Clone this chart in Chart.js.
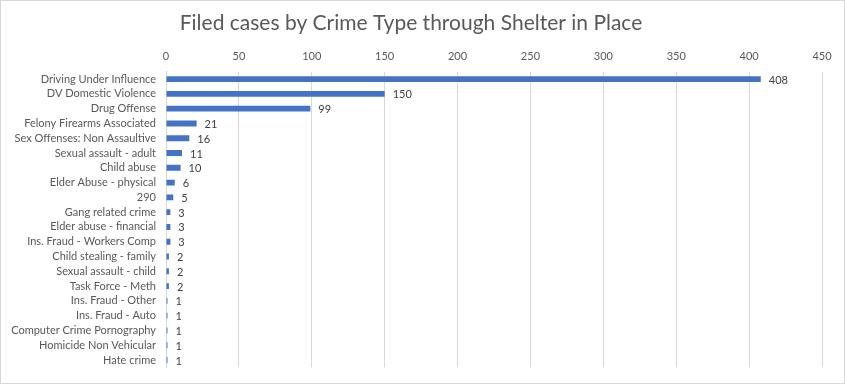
<!DOCTYPE html>
<html lang="en">
<head>
    <meta charset="UTF-8">
    <title>Filed cases by Crime Type</title>
    <script src="https://cdn.jsdelivr.net/npm/chart.js"></script>
    <style>
        html, body { margin: 0; padding: 0; background: #fff; }
        #wrap { width: 845px; height: 384px; }
    </style>
</head>
<body>
    <div id="wrap"><canvas id="crime-chart" width="845" height="384"></canvas></div>

    <script>
        const crimeTypes = [
            'Driving Under Influence', 'DV Domestic Violence', 'Drug Offense',
            'Felony Firearms Associated', 'Sex Offenses: Non Assaultive', 'Sexual assault - adult',
            'Child abuse', 'Elder Abuse - physical', '290', 'Gang related crime',
            'Elder abuse - financial', 'Ins. Fraud - Workers Comp', 'Child stealing - family',
            'Sexual assault - child', 'Task Force - Meth', 'Ins. Fraud - Other',
            'Ins. Fraud - Auto', 'Computer Crime Pornography', 'Homicide Non Vehicular', 'Hate crime'
        ];
        const filedCases = [408, 150, 99, 21, 16, 11, 10, 6, 5, 3, 3, 3, 2, 2, 2, 1, 1, 1, 1, 1];
        const xTicks = [0, 50, 100, 150, 200, 250, 300, 350, 400, 450];

        const textColor = '#595959';
        const fontFamily = 'Lato, "Liberation Sans", sans-serif';

        // value labels at the end of each bar
        const barLabels = {
            id: 'barLabels',
            afterDatasetsDraw(chart) {
                const ctx = chart.ctx;
                const meta = chart.getDatasetMeta(0);
                ctx.save();
                ctx.font = '11px ' + fontFamily;
                ctx.fillStyle = '#404040';
                ctx.textAlign = 'left';
                ctx.textBaseline = 'middle';
                meta.data.forEach((bar, i) => {
                    ctx.fillText(String(filedCases[i]), bar.x + 8, bar.y + 1);
                });
                ctx.restore();
            }
        };

        const frame = {
            id: 'frame',
            beforeDraw(chart) {
                const ctx = chart.ctx;
                ctx.save();
                ctx.fillStyle = '#fff';
                ctx.fillRect(0, 0, chart.width, chart.height);
                ctx.strokeStyle = '#d9d9d9';
                ctx.lineWidth = 1;
                ctx.strokeRect(0.5, 0.5, chart.width - 1, chart.height - 1);
                ctx.restore();
            }
        };

        new Chart(document.getElementById('crime-chart').getContext('2d'), {
            type: 'bar',
            data: {
                labels: crimeTypes,
                datasets: [{
                    label: 'Filed cases',
                    data: filedCases,
                    backgroundColor: '#4472c4',
                    barPercentage: 0.8,
                    categoryPercentage: 0.5
                }]
            },
            options: {
                indexAxis: 'y',
                responsive: false,
                animation: false,
                layout: { padding: { left: 0, right: 23, top: 0, bottom: 14 } },
                plugins: {
                    legend: { display: false },
                    tooltip: { enabled: false },
                    title: {
                        display: true,
                        text: 'Filed cases by Crime Type through Shelter in Place',
                        color: textColor,
                        font: { family: fontFamily, size: 21, weight: 'normal', lineHeight: 1.2 },
                        padding: { top: 11, bottom: 4 }
                    }
                },
                scales: {
                    x: {
                        position: 'top',
                        min: 0,
                        max: 450,
                        afterBuildTicks(axis) { axis.ticks = xTicks.map(v => ({ value: v })); },
                        afterFit(axis) { axis.height = 31.5; },
                        grid: { color: '#d9d9d9', drawTicks: false },
                        border: { display: false },
                        ticks: { color: textColor, padding: 9, font: { family: fontFamily, size: 11 } }
                    },
                    y: {
                        afterFit(axis) { axis.width = 166; },
                        grid: { display: false, drawTicks: false },
                        border: { color: '#d9d9d9' },
                        ticks: { color: textColor, padding: 10, autoSkip: false, font: { family: fontFamily, size: 11 } }
                    }
                }
            },
            plugins: [frame, barLabels]
        });
    </script>
</body>
</html>
